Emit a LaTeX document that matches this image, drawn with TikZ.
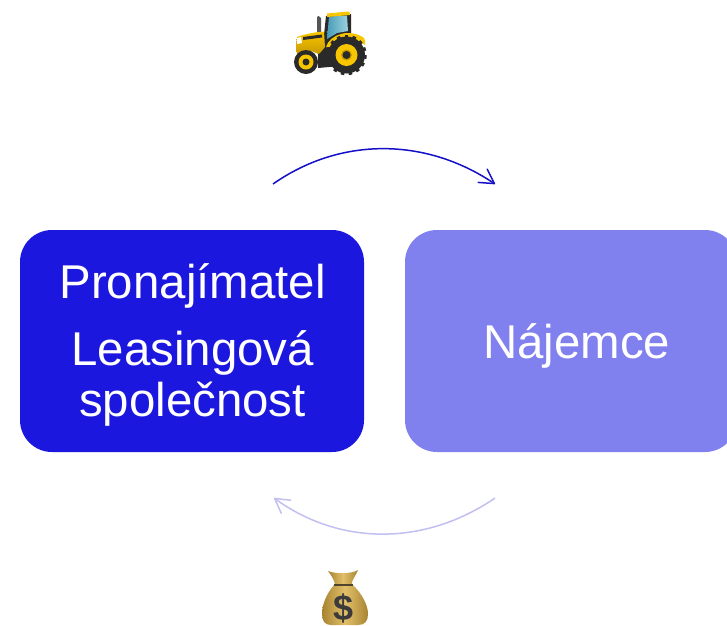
\documentclass[tikz,border=0pt]{standalone}
\usepackage{fontspec}
\setmainfont{Liberation Sans}
\usetikzlibrary{arrows.meta}
\definecolor{lessor}{HTML}{1C17DE}
\definecolor{lessee}{HTML}{8080EE}
\definecolor{arcback}{HTML}{C2C0F2}
\definecolor{arcfwd}{HTML}{1410C8}
\definecolor{tyel}{HTML}{F7C600}
\definecolor{tyeld}{HTML}{C99A00}
\definecolor{tdark}{HTML}{2A2A2A}
\definecolor{tglass}{HTML}{6FBFD0}
\definecolor{tglassd}{HTML}{4A9CB8}
\definecolor{bagc}{HTML}{C9A24A}
\definecolor{bagl}{HTML}{E2C06A}
\definecolor{bagd}{HTML}{A88432}
\definecolor{dollar}{HTML}{3C3A3A}
\tikzset{
  card/.style={rounded corners=32pt,draw=none},
  cardtext/.style={text=white,font=\fontsize{47.4}{50}\selectfont,inner sep=0pt,anchor=base},
  flow/.style={line width=1.5pt,-{Straight Barb[length=14pt,width=16pt,line width=1.5pt,round]}},
}
\begin{document}
\begin{tikzpicture}[x=1pt,y=-1pt]
\useasboundingbox (0,0) rectangle (727,625);
\fill[white] (0,0) rectangle (727,625);
% boxes
\fill[card,lessor] (20,230) rectangle (364,452);
\fill[card,lessee] (405,230) rectangle (737,452);
\node[cardtext] (t1) at (192.6,298) {Pronajímatel};
\node[cardtext] (t2) at (192.6,365) {Leasingová};
\node[cardtext] (t3) at (192.6,416) {společnost};
\node[cardtext] (t4) at (576.6,358) {Nájemce};
% arcs
\coordinate (a1) at (273,184);
\coordinate (a2) at (495,184);
\coordinate (b1) at (495,498);
\coordinate (b2) at (274,498);
\draw[flow,arcfwd] (a1) .. controls (340,137) and (425,137) .. (a2);
\draw[flow,arcback] (b1) .. controls (425,546) and (340,546) .. (b2);
% tractor
\begin{scope}
% exhaust
\fill[tdark!80] (317,17) .. controls (317,15.5) and (320,15.5) .. (321,18) -- (321,33) -- (317,33) -- cycle;
% chassis
\fill[tdark] (318,46) -- (340,40) -- (340,66) -- (318,68) -- cycle;
% cab
\fill[tdark] (326,16) -- (351,14) -- (351,36) -- (331,44) -- (323,44) -- cycle;
\shade[left color=tglassd,right color=tglass!70!white] (329,16.5) -- (347,15.5) -- (348,31) -- (337,33) -- (327,39) -- cycle;
\fill[tyel] (327,13.5) -- (348.5,11.5) .. controls (349.5,11.5) and (350,13) .. (350,15) -- (327,17) -- cycle;
% hood
\shade[top color=tyel,bottom color=tyeld] (297,37) .. controls (305,34) and (316,32) .. (324,31.5) -- (325,47) -- (320,53) -- (318,54) .. controls (310,49) and (300,50) .. (297,54) .. controls (296,48) and (296,42) .. (297,37) -- cycle;
\fill[tdark] (303,37) -- (322,34.5) -- (322,37.5) -- (303,40) -- cycle;
\fill[white] (297,38) -- (301,37) -- (302,43) -- (297,44) -- cycle;
% fender
\fill[tyel] (326,47) .. controls (330,34) and (350,28) .. (364,38) .. controls (365,40) and (365.5,42) .. (365,45) .. controls (354,36) and (338,37) .. (331,47) -- cycle;
% small wheel
\fill[tdark] (306,62) circle[radius=12];
\fill[tyel] (306,62) circle[radius=7.5];
\fill[tdark] (306,62) circle[radius=3.5];
% big wheel with lugs
\fill[tdark] (346.5,55) circle[radius=18.5];
\foreach \a in {0,24,...,336} {
  \fill[tdark,rotate around={\a:(346.5,55)}] (344.7,34.8) rectangle (348.3,38);
}
\fill[tyel] (346.5,55) circle[radius=11];
\fill[tyeld] (346.5,55) circle[radius=5.5];
\fill[tdark] (346.5,55) circle[radius=4];
\end{scope}
% money bag
\begin{scope}
\shade[left color=bagd,right color=bagd,middle color=bagl] (334,585) .. controls (327,593) and (322,604) .. (322,614) .. controls (322,621) and (325,625) .. (331,625) -- (358,625) .. controls (365,625) and (368,621) .. (368,614) .. controls (368,604) and (361,593) .. (353,585) -- cycle;
\shade[left color=bagd,right color=bagd,middle color=bagl] (328,571) .. controls (335,574) and (352,574) .. (358,570) .. controls (356,576) and (351,580) .. (352,585) -- (335,585) .. controls (335,581) and (331,575) .. (328,571) -- cycle;
\fill[tdark!70!bagd] (334,584) rectangle (353,585.5);
\node[inner sep=0pt,text=dollar,font=\bfseries\fontsize{36}{36}\selectfont] (d) at (343.5,608) {\$};
\end{scope}
\end{tikzpicture}
\end{document}
